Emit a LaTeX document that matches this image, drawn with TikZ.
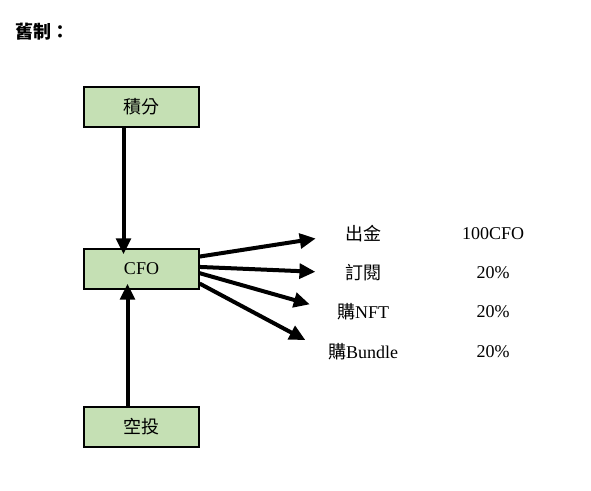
\documentclass[tikz,border=0pt]{standalone}
\usepackage{fontspec}
\setmainfont{Liberation Serif}
\newfontfamily\cjk{Noto Sans CJK TC}
\definecolor{boxgreen}{HTML}{C5E0B4}
\usepackage{tikz}
\usetikzlibrary{
  positioning, calc, arrows.meta
}
\tikzset{
	boxnode/.style={
			rectangle,
			draw=black,
			line width=1.1pt,
			fill=boxgreen,
			minimum width=86pt,
			minimum height=30pt,
			inner sep=0pt,
			font=\fontsize{13.5}{16}\selectfont
		},
	labelnode/.style={
			inner sep=0pt,
			font=\fontsize{13.5}{16}\selectfont
		},
	bigarrow/.style={
			line width=3pt,
			-{Triangle[length=12pt,width=11pt]}
		}
}
\begin{document}
\begin{tikzpicture}[x=0.75pt, y=-0.75pt]
\useasboundingbox (0,0) rectangle (591,490);
\node[labelnode, anchor=west] (title) at (15,32) {\cjk\bfseries 舊制：};

\node[boxnode] (jifen) at (141.5,107) {\cjk 積分};
\node[boxnode] (cfo) at (141.5,269) {CFO};
\node[boxnode] (kongtou) at (141.5,427) {\cjk 空投};

\node[labelnode] (chujin) at (363,234) {\cjk 出金};
\node[labelnode] (dingyue) at (363,273) {\cjk 訂閱};
\node[labelnode] (gounft) at (363,312) {{\cjk 購}NFT};
\node[labelnode] (goubundle) at (363,352) {{\cjk 購}Bundle};

\node[labelnode] (v1) at (493,234) {100CFO};
\node[labelnode] (v2) at (493,273) {20\%};
\node[labelnode] (v3) at (493,312) {20\%};
\node[labelnode] (v4) at (493,352) {20\%};

\draw[bigarrow, shorten >=-4.5pt] ([xshift=-13.5pt]jifen.south) -- ([xshift=-13.5pt]cfo.north);
\draw[bigarrow, shorten >=-4.5pt] ([xshift=-10.5pt]kongtou.north) -- ([xshift=-10.5pt]cfo.south);

\draw[bigarrow, shorten >=22pt] ($(cfo.north east)!0.2!(cfo.south east)$) -- (chujin.west);
\draw[bigarrow, shorten >=22pt] ($(cfo.north east)!0.45!(cfo.south east)$) -- (dingyue.west);
\draw[bigarrow, shorten >=21pt] ($(cfo.north east)!0.6!(cfo.south east)$) -- (gounft.west);
\draw[bigarrow, shorten >=19pt] ($(cfo.north east)!0.85!(cfo.south east)$) -- (goubundle.west);
\end{tikzpicture}
\end{document}
